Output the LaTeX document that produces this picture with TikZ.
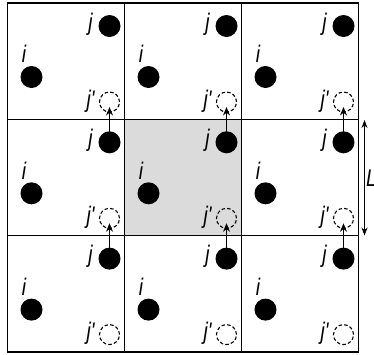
\documentclass[tikz,border=0pt]{standalone}
\usepackage{fontspec}
\setmainfont{Liberation Sans}
\newfontfamily\lblfont[FakeStretch=0.8]{Liberation Sans}
\usetikzlibrary{arrows.meta}
\begin{document}
\begin{tikzpicture}[x=1pt,y=-1pt,
  dot/.style={circle,fill=black,inner sep=0pt,minimum size=22pt},
  ghost/.style={circle,draw,dash pattern=on 3.5pt off 2.2pt,line width=1.1pt,inner sep=0pt,minimum size=20pt},
  lbl/.style={font=\lblfont\fontsize{24}{24}\selectfont\itshape,inner sep=0pt},
  mv/.style={-{Stealth[length=8.5pt,width=7pt]},line width=1pt},
  gridline/.style={line width=1.3pt}]
\useasboundingbox (0,0) rectangle (374,354);
\fill[gray!28] (124.5,119.3) rectangle (241.5,235.6);
\foreach \r in {0,1,2} {
  \foreach \c in {0,1,2} {
    \pgfmathsetmacro\X{7.5+117*\c}
    \pgfmathsetmacro\Y{3+116.3*\r}
    \node[dot] (i-\r-\c) at (\X+24,\Y+74) {};
    \node[dot] (j-\r-\c) at (\X+102,\Y+23) {};
    \node[ghost] (jp-\r-\c) at (\X+102,\Y+99) {};
    \node[lbl] (li-\r-\c) at (\X+16.5,\Y+51) {i};
    \node[lbl] (lj-\r-\c) at (\X+83,\Y+21) {j};
    \node[lbl] (ljp-\r-\c) at (\X+83,\Y+98) {j'};
  }
}
\draw[gridline] (7.5,3) rectangle (358.5,352);
\draw[gridline] (124.5,3) -- (124.5,352);
\draw[gridline] (241.5,3) -- (241.5,352);
\draw[gridline] (7.5,119.3) -- (358.5,119.3);
\draw[gridline] (7.5,235.6) -- (358.5,235.6);
\foreach \r in {1,2} {
  \foreach \c in {0,1,2} {
    \pgfmathtruncatemacro\u{\r-1}
    \draw[mv] (j-\r-\c.center) -- ([yshift=-5pt]jp-\u-\c.center);
  }
}
\coordinate (Lt) at (364.5,120);
\coordinate (Lb) at (364.5,235.5);
\draw[{Stealth[length=8pt,width=6pt]}-{Stealth[length=8pt,width=6pt]},line width=0.8pt] (Lt) -- (Lb);
\node[lbl,anchor=west] (L) at (366,178) {L};
\end{tikzpicture}
\end{document}
